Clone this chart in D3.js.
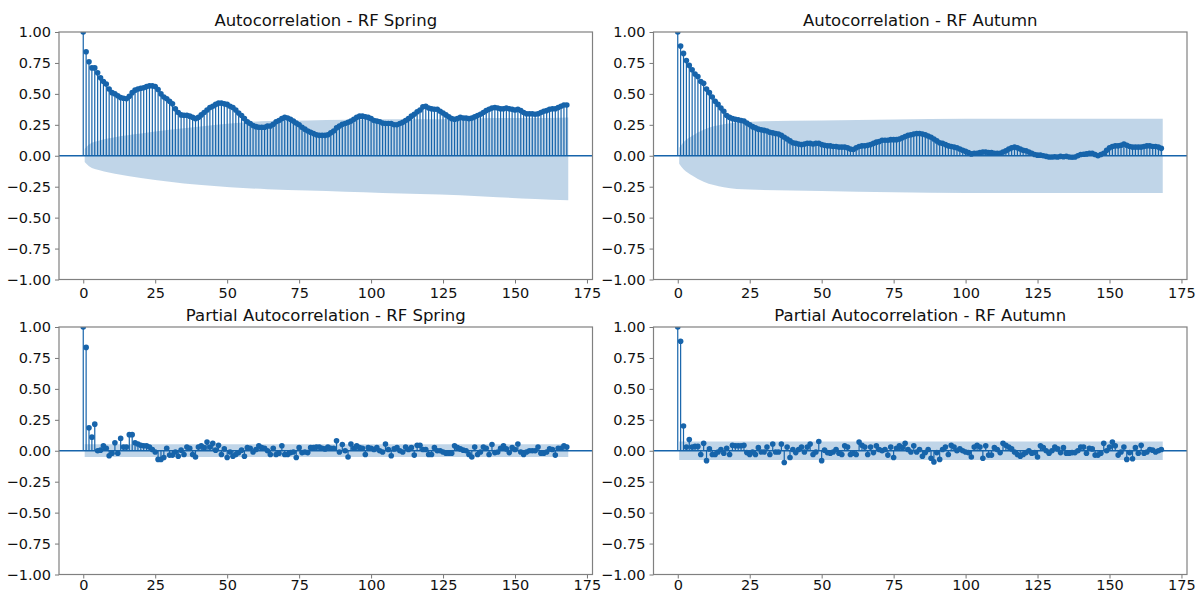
<!DOCTYPE html>
<html>
<head>
<meta charset="utf-8">
<script src="https://cdn.jsdelivr.net/npm/d3@7"></script>
<style>
  body { margin: 0; background: #fff; }
  text { font-family: "DejaVu Sans", sans-serif; fill: #111; }
</style>
</head>
<body>
<div id="viz"></div>
<script>
// Figure size
const width = 1196;
const height = 594;

// Axis ticks
const xTicks = [0, 25, 50, 75, 100, 125, 150, 175];
const yTicks = [-1, -0.75, -0.5, -0.25, 0, 0.25, 0.5, 0.75, 1];

// Titles
const titles = [
  "Autocorrelation - RF Spring",
  "Autocorrelation - RF Autumn",
  "Partial Autocorrelation - RF Spring",
  "Partial Autocorrelation - RF Autumn"
];

// ACF values, lags 0..168
const springAcf = [
  1.00, 0.84, 0.76, 0.71, 0.71, 0.67, 0.63, 0.60, 0.58, 0.54,
  0.51, 0.50, 0.485, 0.47, 0.465, 0.46, 0.48, 0.51, 0.53, 0.54,
  0.545, 0.55, 0.56, 0.565, 0.565, 0.56, 0.535, 0.50, 0.475, 0.46,
  0.44, 0.42, 0.38, 0.35, 0.33, 0.327, 0.327, 0.32, 0.31, 0.30,
  0.31, 0.33, 0.35, 0.37, 0.39, 0.40, 0.415, 0.425, 0.425, 0.42,
  0.415, 0.40, 0.39, 0.37, 0.345, 0.325, 0.30, 0.275, 0.26, 0.245,
  0.235, 0.23, 0.23, 0.23, 0.24, 0.24, 0.255, 0.275, 0.285, 0.30,
  0.31, 0.305, 0.295, 0.28, 0.265, 0.25, 0.23, 0.215, 0.20, 0.19,
  0.18, 0.17, 0.165, 0.165, 0.165, 0.17, 0.185, 0.20, 0.225, 0.24,
  0.255, 0.26, 0.27, 0.28, 0.295, 0.31, 0.32, 0.32, 0.315, 0.31,
  0.30, 0.285, 0.28, 0.275, 0.265, 0.26, 0.26, 0.26, 0.25, 0.25,
  0.26, 0.27, 0.285, 0.30, 0.32, 0.335, 0.355, 0.37, 0.395, 0.40,
  0.385, 0.38, 0.375, 0.375, 0.36, 0.345, 0.33, 0.315, 0.30, 0.295,
  0.30, 0.31, 0.305, 0.305, 0.30, 0.305, 0.315, 0.325, 0.335, 0.35,
  0.365, 0.375, 0.385, 0.39, 0.385, 0.38, 0.38, 0.385, 0.38, 0.375,
  0.37, 0.375, 0.365, 0.35, 0.34, 0.34, 0.34, 0.335, 0.34, 0.35,
  0.36, 0.365, 0.375, 0.38, 0.38, 0.39, 0.40, 0.41, 0.41
];

const autumnAcf = [
  1.00, 0.886, 0.827, 0.77, 0.73, 0.695, 0.66, 0.64, 0.60, 0.585,
  0.54, 0.51, 0.475, 0.44, 0.415, 0.385, 0.36, 0.325, 0.31, 0.30,
  0.295, 0.29, 0.285, 0.28, 0.265, 0.25, 0.235, 0.225, 0.215, 0.21,
  0.205, 0.20, 0.19, 0.185, 0.18, 0.175, 0.165, 0.15, 0.135, 0.12,
  0.105, 0.10, 0.095, 0.09, 0.095, 0.10, 0.10, 0.095, 0.10, 0.10,
  0.09, 0.085, 0.08, 0.08, 0.075, 0.075, 0.07, 0.07, 0.07, 0.065,
  0.055, 0.05, 0.065, 0.075, 0.08, 0.08, 0.085, 0.09, 0.10, 0.11,
  0.115, 0.125, 0.125, 0.125, 0.13, 0.13, 0.13, 0.135, 0.145, 0.155,
  0.165, 0.17, 0.175, 0.18, 0.18, 0.175, 0.17, 0.16, 0.15, 0.135,
  0.12, 0.105, 0.10, 0.09, 0.08, 0.075, 0.07, 0.065, 0.055, 0.045,
  0.035, 0.025, 0.015, 0.02, 0.02, 0.025, 0.03, 0.03, 0.025, 0.025,
  0.02, 0.02, 0.02, 0.03, 0.04, 0.055, 0.065, 0.07, 0.065, 0.055,
  0.045, 0.04, 0.03, 0.02, 0.01, 0.005, 0.005, 0.0, -0.005, -0.01,
  -0.01, -0.008, -0.01, -0.005, -0.008, -0.005, -0.01, -0.012, -0.01, 0.0,
  0.01, 0.012, 0.015, 0.02, 0.02, 0.01, 0.0, 0.01, 0.02, 0.045,
  0.065, 0.075, 0.08, 0.08, 0.085, 0.095, 0.085, 0.075, 0.07, 0.07,
  0.07, 0.07, 0.075, 0.08, 0.08, 0.075, 0.075, 0.07, 0.06
];

// PACF values, lags 0..168
const springPacf = [
  1.00, 0.835, 0.185, 0.11, 0.215, 0.0, 0.005, 0.04, 0.02, -0.04,
  -0.02, 0.065, -0.02, 0.10, 0.03, 0.03, 0.13, 0.13, 0.065, 0.055,
  0.045, 0.04, 0.04, 0.03, 0.01, -0.01, -0.07, -0.07, -0.055, 0.02,
  -0.035, -0.035, -0.01, -0.045, 0.005, -0.03, 0.03, 0.02, -0.03, -0.05,
  0.03, 0.04, 0.025, 0.07, 0.03, 0.06, 0.005, 0.045, -0.03, 0.015,
  -0.055, -0.01, -0.045, -0.03, -0.015, 0.005, -0.045, 0.025, 0.02, -0.01,
  0.01, 0.04, 0.025, 0.02, 0.0, -0.03, 0.02, -0.03, -0.02, 0.04,
  -0.03, -0.03, -0.015, -0.01, -0.055, 0.025, -0.015, -0.01, -0.015, 0.025,
  0.025, 0.03, 0.03, 0.02, 0.015, 0.03, 0.02, 0.02, 0.08, -0.01,
  0.05, 0.0, -0.05, 0.055, 0.02, 0.04, 0.025, 0.02, -0.03, 0.025,
  0.02, 0.01, 0.025, 0.0, -0.01, 0.055, 0.01, -0.04, 0.015, 0.025,
  0.0, -0.01, 0.03, 0.01, 0.025, -0.035, 0.045, 0.045, 0.01, 0.01,
  -0.03, -0.03, 0.025, 0.0, 0.0, -0.01, -0.02, -0.02, -0.02, 0.04,
  0.025, 0.015, 0.005, 0.0, -0.03, -0.05, 0.03, -0.03, -0.01, 0.03,
  0.02, -0.03, 0.05, -0.015, -0.01, 0.02, 0.04, 0.015, -0.015, 0.025,
  0.01, 0.055, -0.01, -0.03, -0.01, 0.0, 0.0, 0.0, 0.03, -0.02,
  -0.02, -0.01, 0.015, 0.01, -0.035, 0.02, 0.02, 0.04, 0.03
];

const autumnPacf = [
  1.00, 0.885, 0.20, 0.03, 0.09, 0.03, 0.035, 0.035, -0.03, 0.06,
  -0.08, 0.015, -0.03, -0.03, -0.01, 0.01, -0.02, 0.02, -0.03, 0.045,
  0.04, 0.04, 0.04, 0.045, -0.015, -0.03, -0.01, -0.03, 0.025, -0.01,
  -0.01, 0.03, -0.03, 0.055, -0.01, -0.01, 0.055, -0.095, 0.03, -0.055,
  0.01, -0.015, 0.01, 0.03, -0.01, 0.03, 0.055, -0.03, -0.01, 0.075,
  -0.08, 0.005, -0.015, -0.02, -0.01, 0.01, -0.02, -0.03, 0.04, 0.03,
  -0.03, -0.02, -0.03, 0.07, 0.045, 0.03, -0.03, 0.03, -0.015, 0.04,
  0.01, 0.0, 0.01, -0.035, 0.03, -0.055, 0.02, 0.04, 0.025, 0.06,
  0.01, -0.01, 0.04, -0.01, 0.01, -0.045, -0.015, 0.01, -0.06, -0.09,
  -0.015, -0.07, 0.01, 0.03, -0.03, 0.045, 0.03, 0.0, 0.015, 0.0,
  -0.01, -0.015, -0.05, 0.03, 0.045, 0.03, -0.06, 0.04, -0.035, -0.035,
  0.025, 0.01, -0.015, 0.06, 0.045, 0.03, 0.015, -0.01, -0.03, -0.045,
  -0.03, -0.015, 0.0, -0.02, -0.015, -0.05, 0.04, 0.025, 0.0, -0.02,
  0.0, 0.03, 0.015, -0.015, 0.025, -0.02, -0.02, -0.015, -0.015, 0.0,
  0.03, 0.03, -0.02, 0.02, 0.015, -0.035, -0.035, -0.02, 0.06, 0.0,
  0.03, 0.07, 0.04, -0.035, -0.01, 0.03, -0.07, -0.015, -0.065, 0.025,
  -0.02, 0.045, -0.02, -0.01, 0.01, 0.005, -0.01, 0.0, 0.01
];

// Confidence bands, read at a few lags
const springAcfBandLags = [0.5, 2, 6, 11, 20, 30, 40, 51, 64, 78, 91, 104, 117, 131, 144, 157, 168.5];
const springAcfBandUpper = [0.055, 0.09, 0.125, 0.15, 0.18, 0.21, 0.235, 0.26, 0.28, 0.285, 0.29, 0.295, 0.295, 0.30, 0.305, 0.305, 0.31];
const springAcfBandLower = [-0.05, -0.085, -0.12, -0.145, -0.18, -0.21, -0.235, -0.255, -0.27, -0.28, -0.29, -0.30, -0.31, -0.32, -0.335, -0.35, -0.36];

const autumnAcfBandLags = [0.5, 2, 5, 9, 16, 25, 50, 100, 168.5];
const autumnAcfBandUpper = [0.065, 0.11, 0.16, 0.21, 0.254, 0.275, 0.285, 0.30, 0.30];
const autumnAcfBandLower = [-0.065, -0.11, -0.16, -0.21, -0.254, -0.273, -0.285, -0.30, -0.30];

const springPacfBandLags = [0.5, 168.5];
const springPacfBandUpper = [0.053, 0.053];
const springPacfBandLower = [-0.05, -0.05];

const autumnPacfBandLags = [0.5, 168.5];
const autumnPacfBandUpper = [0.074, 0.074];
const autumnPacfBandLower = [-0.075, -0.075];

// Layout
const colLeft = [59, 653.5];
const plotWidth = 533.5;
const rowTop = [32, 327];
const plotHeight = 247.5;
const xTickPad = [4, 1.5];
const xDomain = [-8.425, 176.925];
const blue = "#1764ab";
const markerRadius = 2.8;

const svg = d3.select("#viz")
  .append("svg")
  .attr("width", width)
  .attr("height", height)
  .style("display", "block");

svg.append("rect").attr("width", width).attr("height", height).attr("fill", "#fff");

function drawPanel(idx, col, row, values, bandLags, bandUpper, bandLower) {
  const left = colLeft[col];
  const top = rowTop[row];
  const xScale = d3.scaleLinear().domain(xDomain).range([0, plotWidth]);
  const yScale = d3.scaleLinear().domain([-1, 1]).range([plotHeight, 0]);

  const g = svg.append("g").attr("transform", "translate(" + left + "," + top + ")");

  const clipId = "clip" + idx;
  g.append("clipPath").attr("id", clipId)
    .append("rect").attr("width", plotWidth).attr("height", plotHeight);

  const plot = g.append("g").attr("clip-path", "url(#" + clipId + ")");

  const data = values.map((v, i) => ({lag: i, value: v}));

  // stems
  plot.selectAll(".stem")
    .data(data)
    .enter().append("line")
    .attr("x1", d => xScale(d.lag))
    .attr("x2", d => xScale(d.lag))
    .attr("y1", yScale(0))
    .attr("y2", d => yScale(d.value))
    .attr("stroke", blue)
    .attr("stroke-width", 1.2);

  // zero line
  plot.append("line")
    .attr("x1", 0).attr("x2", plotWidth)
    .attr("y1", yScale(0)).attr("y2", yScale(0))
    .attr("stroke", blue)
    .attr("stroke-width", 1.3);

  // markers
  plot.selectAll(".marker")
    .data(data)
    .enter().append("circle")
    .attr("cx", d => xScale(d.lag))
    .attr("cy", d => yScale(d.value))
    .attr("r", markerRadius)
    .attr("fill", blue);

  // confidence band
  const band = bandLags.map((l, i) => ({lag: l, hi: bandUpper[i], lo: bandLower[i]}));
  const area = d3.area()
    .x(d => xScale(d.lag))
    .y0(d => yScale(d.lo))
    .y1(d => yScale(d.hi))
    .curve(d3.curveMonotoneX);
  plot.append("path")
    .attr("d", area(band))
    .attr("fill", blue)
    .attr("fill-opacity", 0.27);

  // axes
  const xAxisG = g.append("g")
    .attr("transform", "translate(0," + plotHeight + ")")
    .call(d3.axisBottom(xScale).tickValues(xTicks).tickFormat(d3.format("d")).tickSize(4).tickPadding(xTickPad[row]));
  const yAxisG = g.append("g")
    .call(d3.axisLeft(yScale).tickValues(yTicks).tickFormat(d3.format(".2f")).tickSize(4).tickPadding(4));

  [xAxisG, yAxisG].forEach(a => {
    a.select(".domain").remove();
    a.selectAll(".tick line").attr("stroke", "#777").attr("stroke-width", 1);
    a.selectAll(".tick text")
      .attr("fill", "#111")
      .style("font-size", "14.5px")
      .style("font-family", "DejaVu Sans, sans-serif");
  });

  // spines
  g.append("rect")
    .attr("width", plotWidth)
    .attr("height", plotHeight)
    .attr("fill", "none")
    .attr("stroke", "#808080")
    .attr("stroke-width", 1.2);

  // title
  g.append("text")
    .attr("x", plotWidth / 2)
    .attr("y", -6)
    .attr("text-anchor", "middle")
    .style("font-size", "16.5px")
    .text(titles[idx]);
}

drawPanel(0, 0, 0, springAcf, springAcfBandLags, springAcfBandUpper, springAcfBandLower);
drawPanel(1, 1, 0, autumnAcf, autumnAcfBandLags, autumnAcfBandUpper, autumnAcfBandLower);
drawPanel(2, 0, 1, springPacf, springPacfBandLags, springPacfBandUpper, springPacfBandLower);
drawPanel(3, 1, 1, autumnPacf, autumnPacfBandLags, autumnPacfBandUpper, autumnPacfBandLower);
</script>
</body>
</html>
